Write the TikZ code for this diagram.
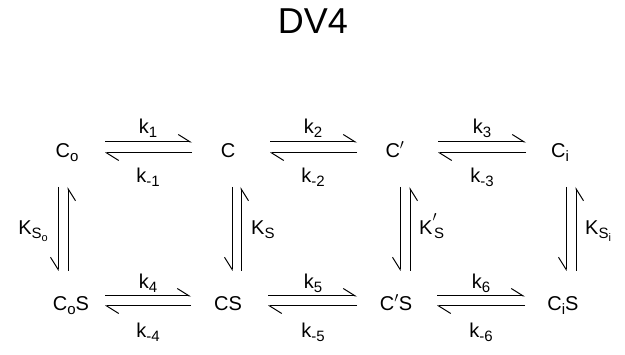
\documentclass[tikz,border=0pt]{standalone}
\usepackage{fontspec}
\setmainfont{Liberation Sans}
\usetikzlibrary{arrows.meta}
\newcommand\lsub[1]{\raisebox{-4pt}{\fontsize{15}{15}\selectfont #1}}
\newcommand\llsub[1]{\raisebox{-3pt}{\fontsize{11}{11}\selectfont #1}}
\newcommand\lprime{\raisebox{1pt}{$'$}}
\begin{document}
\begin{tikzpicture}[x=1pt,y=-1pt,
  lbl/.style={font=\fontsize{20}{20}\selectfont, inner sep=0pt, anchor=base},
  rxn/.style={line width=1pt},
  hfwd/.style={rxn, -{Straight Barb[harpoon,length=12pt,width=15pt]}},
  vfwd/.style={rxn, -{Straight Barb[harpoon,swap,length=12pt,width=15pt]}}]
\useasboundingbox (0,0) rectangle (625,355);
\node[font=\fontsize{36}{36}\selectfont, inner sep=0pt] (title) at (313,21) {DV4};
% species
\node[lbl] (Co)  at (67,158)  {C\lsub{o}};
\node[lbl] (C)   at (228,158) {C};
\node[lbl] (Cp)  at (395,158) {C\lprime};
\node[lbl] (Ci)  at (560,158) {C\lsub{i}};
\node[lbl] (CoS) at (71,311)  {C\lsub{o}S};
\node[lbl] (CS)  at (228,311) {CS};
\node[lbl] (CpS) at (396,311) {C\lprime S};
\node[lbl] (CiS) at (563,311) {C\lsub{i}S};
% horizontal arrow end points
\foreach \n/\a/\b/\yt/\yb in {h1/105/192/142/153, h2/270/357/142/153, h3/438/526/142/153,
                              h4/105/191/296/306, h5/268/357/296/306, h6/437/525/296/306}{
  \coordinate (\n tl) at (\a,\yt); \coordinate (\n tr) at (\b,\yt);
  \coordinate (\n bl) at (\a,\yb); \coordinate (\n br) at (\b,\yb);
  \draw[hfwd] (\n tl) -- (\n tr);
  \draw[hfwd] (\n br) -- (\n bl);
}
% rate labels
\node[lbl] (k1)  at (148,134) {k\lsub{1}};
\node[lbl] (km1) at (148,183) {k\lsub{-1}};
\node[lbl] (k2)  at (313,134) {k\lsub{2}};
\node[lbl] (km2) at (313,183) {k\lsub{-2}};
\node[lbl] (k3)  at (482,134) {k\lsub{3}};
\node[lbl] (km3) at (482,183) {k\lsub{-3}};
\node[lbl] (k4)  at (148,289) {k\lsub{4}};
\node[lbl] (km4) at (148,338) {k\lsub{-4}};
\node[lbl] (k5)  at (313,289) {k\lsub{5}};
\node[lbl] (km5) at (313,338) {k\lsub{-5}};
\node[lbl] (k6)  at (481,289) {k\lsub{6}};
\node[lbl] (km6) at (481,338) {k\lsub{-6}};
% vertical arrows
\foreach \n/\xl/\xr in {v1/58/68, v2/232/241, v3/400/410, v4/566/576}{
  \coordinate (\n lt) at (\xl,187); \coordinate (\n lb) at (\xl,271);
  \coordinate (\n rt) at (\xr,187); \coordinate (\n rb) at (\xr,271);
  \draw[vfwd] (\n lt) -- (\n lb);
  \draw[vfwd] (\n rb) -- (\n rt);
}
\node[lbl, anchor=base east] (KSo) at (48,235) {K\lsub{S\llsub{o}}};
\node[lbl, anchor=base west] (KS)  at (251,235) {K\lsub{S}};
\node[lbl, anchor=base west] (KSp) at (419,235) {K\raisebox{5pt}{\lprime}\kern-3pt\lsub{S}};
\node[lbl, anchor=base west] (KSi) at (585,235) {K\lsub{S\llsub{i}}};
\end{tikzpicture}
\end{document}
